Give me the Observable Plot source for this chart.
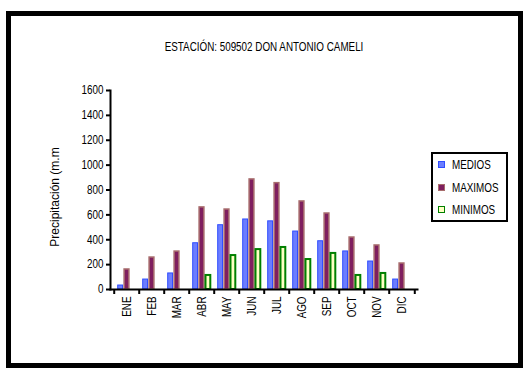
<!DOCTYPE html>
<html>
<head>
<meta charset="utf-8">
<script src="https://cdn.jsdelivr.net/npm/d3@7"></script>
<script src="https://cdn.jsdelivr.net/npm/@observablehq/plot@0.6"></script>
<style>
  html, body { margin: 0; padding: 0; background: #fff; }
  #wrap { position: relative; width: 529px; height: 368px; overflow: hidden; }
  #border { position: absolute; left: 6px; top: 11px; width: 517px; height: 357px;
            box-sizing: border-box; border: 5px solid #000; pointer-events: none; }
  #legend { position: absolute; left: 431px; top: 152px; width: 77px; height: 70px;
            box-sizing: border-box; border: 2px solid #000; background: #fff;
            font-family: "Liberation Sans", Arial, sans-serif;
            font-size: 12px; color: #000; }
  .item { position: absolute; left: 5px; height: 14px; line-height: 14px; white-space: nowrap; }
  .swatch { display: inline-block; width: 5px; height: 5px; vertical-align: middle;
            margin-right: 7px; position: relative; top: -1px; }
  .lbl { display: inline-block; transform: scaleX(0.82); transform-origin: left center; }
</style>
</head>
<body>
<div id="wrap"><div id="border"></div></div>
<script>
// Monthly precipitation (mm) at station 509502 Don Antonio Cameli
const months = ["ENE","FEB","MAR","ABR","MAY","JUN","JUL","AGO","SEP","OCT","NOV","DIC"];
const medios  = [32, 80, 129, 372, 517, 563, 548, 466, 388, 306, 225, 80];
const maximos = [161, 257, 305, 660, 643, 885, 855, 708, 611, 418, 354, 209];
const minimos = [0, 0, 0, 113, 273, 321, 338, 241, 290, 113, 129, 0];
const seriesNames = ["MEDIOS", "MAXIMOS", "MINIMOS"];
const yTicks = [0, 200, 400, 600, 800, 1000, 1200, 1400, 1600];

const title = "ESTACIÓN: 509502 DON ANTONIO CAMELI";
const yLabel = "Precipitación (m.m";

// bar styles per series
const styles = {
  MEDIOS:  {fill: "#6b7dff", stroke: "#2f4dff", strokeWidth: 1},
  MAXIMOS: {fill: "#7f1f5f", stroke: "#a86d6d", strokeWidth: 1.5},
  MINIMOS: {fill: "#ffffc4", stroke: "#008000", strokeWidth: 2}
};

const W = 529, H = 368;
const mL = 110, mR = 112, mT = 90, mB = 79;
const band = (W - mL - mR) / months.length;
const slot = band / (seriesNames.length + 1);   // half-slot gap on each side
const font = `"Liberation Sans", Arial, sans-serif`;

const columns = [medios, maximos, minimos];
const rows = seriesNames.map((s, i) =>
  months.map((m, j) => ({month: m, series: s, value: columns[i][j]})));

const barMarks = seriesNames.map((s, i) => {
  const left = slot / 2 + i * slot;
  return Plot.barY(rows[i].filter(d => d.value > 0), {
    x: "month", y: "value",
    insetLeft: left + 0.5, insetRight: band - left - slot + 0.5,
    ...styles[s]
  });
});

const chart = Plot.plot({
  width: W, height: H,
  marginLeft: mL, marginRight: mR, marginTop: mT, marginBottom: mB,
  style: {fontFamily: font, fontSize: "12px", color: "#000", background: "transparent"},
  x: {domain: months, padding: 0, axis: null},
  y: {domain: [0, 1600], axis: null},
  marks: [
    ...barMarks,
    // axis lines
    Plot.frame({anchor: "left", stroke: "#000", strokeWidth: 2}),
    Plot.frame({anchor: "bottom", stroke: "#000", strokeWidth: 2}),
    // y axis
    Plot.axisY({ticks: yTicks, tickSize: 4, tickPadding: 3, tickFormat: d3.format("d"),
                label: null, fontSize: 12, strokeWidth: 2}),
    Plot.text([yLabel], {frameAnchor: "left", textAnchor: "middle", rotate: -90,
                         dx: -55, dy: 7, fontSize: 12, fill: "#000"}),
    // x ticks sit on the category boundaries
    Plot.axisX({tickSize: 5, text: null, label: null, dx: -band / 2, strokeWidth: 2}),
    Plot.axisX([months[months.length - 1]], {tickSize: 5, text: null, label: null, dx: band / 2, strokeWidth: 2}),
    Plot.axisX({tickSize: 0, tickRotate: -90, tickPadding: 7, label: null, fontSize: 12}),
    // title
    Plot.text([title], {frameAnchor: "top", dy: -48, fontSize: 12, fill: "#000"})
  ]
});

const wrap = document.getElementById("wrap");
chart.style.position = "absolute";
chart.style.left = "0px";
chart.style.top = "0px";
wrap.insertBefore(chart, wrap.firstChild);

// narrow the lettering to a condensed face (the axis title keeps its natural width)
chart.querySelectorAll("text").forEach(t => {
  if (t.textContent === yLabel) return;
  const len = t.getComputedTextLength();
  if (len > 0) {
    t.setAttribute("textLength", (len * 0.82).toFixed(2));
    t.setAttribute("lengthAdjust", "spacingAndGlyphs");
  }
});

// legend box
const legend = document.createElement("div");
legend.id = "legend";
seriesNames.forEach((s, i) => {
  const it = document.createElement("div");
  it.className = "item";
  it.style.top = (4 + i * 22.5) + "px";
  const sw = document.createElement("span");
  sw.className = "swatch";
  sw.style.background = styles[s].fill;
  sw.style.border = `1.5px solid ${styles[s].stroke}`;
  const tx = document.createElement("span");
  tx.className = "lbl";
  tx.textContent = s;
  it.appendChild(sw);
  it.appendChild(tx);
  legend.appendChild(it);
});
wrap.appendChild(legend);
</script>
</body>
</html>
